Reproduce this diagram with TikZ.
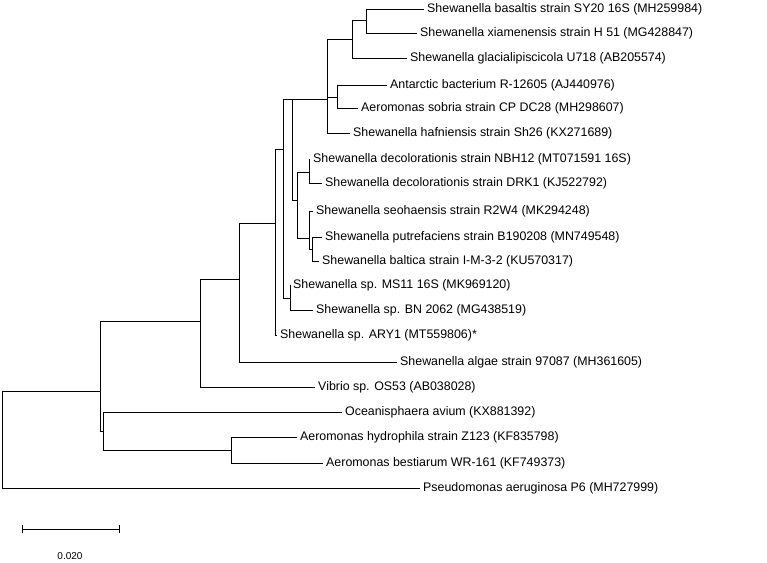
\documentclass[tikz,border=0pt]{standalone}
\usepackage{fontspec}
\setmainfont{Liberation Sans}
\begin{document}
\begin{tikzpicture}[x=1pt,y=-1pt,
  leaf/.style={anchor=west,inner xsep=3pt,inner ysep=0pt,font=\fontsize{12.4}{14}\selectfont},
  br/.style={line width=0.9pt}]
\useasboundingbox (0,0) rectangle (767,562);
% internal nodes
\coordinate (R) at (2,440);
\coordinate (A) at (100,391);
\coordinate (C) at (103,431);
\coordinate (D) at (231,450);
\coordinate (B) at (200,321);
\coordinate (E) at (239,279);
\coordinate (F) at (275,223);
\coordinate (G) at (283,149);
\coordinate (M) at (290,298);
\coordinate (H) at (292,99);
\coordinate (I) at (327,99);
\coordinate (K) at (352,39);
\coordinate (N) at (366,20);
\coordinate (L) at (337,97);
\coordinate (J) at (297,200);
\coordinate (P) at (309,172);
\coordinate (Q) at (309,238);
\coordinate (S) at (312,249);
% leaves
\node[leaf] (sy) at (424,9) {Shewanella basaltis strain SY20 16S (MH259984)};
\node[leaf] (xi) at (417,33) {Shewanella xiamenensis strain H 51 (MG428847)};
\node[leaf] (gl) at (407,58) {Shewanella glacialipiscicola U718 (AB205574)};
\node[leaf] (an) at (387,85) {Antarctic bacterium R-12605 (AJ440976)};
\node[leaf] (so) at (358,108) {Aeromonas sobria strain CP DC28 (MH298607)};
\node[leaf] (ha) at (350,133) {Shewanella hafniensis strain Sh26 (KX271689)};
\node[leaf] (nb) at (310,159) {Shewanella decolorationis strain NBH12 (MT071591 16S)};
\node[leaf] (dr) at (322,183) {Shewanella decolorationis strain DRK1 (KJ522792)};
\node[leaf] (se) at (313,211) {Shewanella seohaensis strain R2W4 (MK294248)};
\node[leaf] (pu) at (322,237) {Shewanella putrefaciens strain B190208 (MN749548)};
\node[leaf] (ba) at (319,261) {Shewanella baltica strain I-M-3-2 (KU570317)};
\node[leaf] (ms) at (290,285) {Shewanella sp. MS11 16S (MK969120)};
\node[leaf] (bn) at (313,310) {Shewanella sp. BN 2062 (MG438519)};
\node[leaf] (ar) at (277,335) {Shewanella sp. ARY1 (MT559806)*};
\node[leaf] (al) at (397,362) {Shewanella algae strain 97087 (MH361605)};
\node[leaf] (vi) at (315,387) {Vibrio sp. OS53 (AB038028)};
\node[leaf] (oc) at (342,412) {Oceanisphaera avium (KX881392)};
\node[leaf] (hy) at (297,437) {Aeromonas hydrophila strain Z123 (KF835798)};
\node[leaf] (be) at (323,463) {Aeromonas bestiarum WR-161 (KF749373)};
\node[leaf] (ps) at (420,488) {Pseudomonas aeruginosa P6 (MH727999)};
% branches
\draw[br] (R) |- (A); \draw[br] (R) |- (ps.west);
\draw[br] (A) |- (B); \draw[br] (A) |- (C);
\draw[br] (C) |- (oc.west); \draw[br] (C) |- (D);
\draw[br] (D) |- (hy.west); \draw[br] (D) |- (be.west);
\draw[br] (B) |- (E); \draw[br] (B) |- (vi.west);
\draw[br] (E) |- (F); \draw[br] (E) |- (al.west);
\draw[br] (F) |- (G); \draw[br] (F) |- (ar.west);
\draw[br] (G) |- (H); \draw[br] (G) |- (M);
\draw[br] (M) |- (ms.west); \draw[br] (M) |- (bn.west);
\draw[br] (H) |- (I); \draw[br] (H) |- (J);
\draw[br] (I) |- (K); \draw[br] (I) |- (L); \draw[br] (I) |- (ha.west);
\draw[br] (K) |- (N); \draw[br] (K) |- (gl.west);
\draw[br] (N) |- (sy.west); \draw[br] (N) |- (xi.west);
\draw[br] (L) |- (an.west); \draw[br] (L) |- (so.west);
\draw[br] (J) |- (P); \draw[br] (J) |- (Q);
\draw[br] (P) |- (nb.west); \draw[br] (P) |- (dr.west);
\draw[br] (Q) |- (se.west); \draw[br] (Q) |- (S);
\draw[br] (S) |- (pu.west); \draw[br] (S) |- (ba.west);
% scale bar
\coordinate (s1) at (22,529); \coordinate (s2) at (119,529);
\draw[br] (s1) -- (s2);
\draw[br] ([yshift=-4]s1) -- ([yshift=4]s1);
\draw[br] ([yshift=-4]s2) -- ([yshift=4]s2);
\node[font=\fontsize{10}{12}\selectfont] (sl) at (70,556) {0.020};
\end{tikzpicture}
\end{document}
